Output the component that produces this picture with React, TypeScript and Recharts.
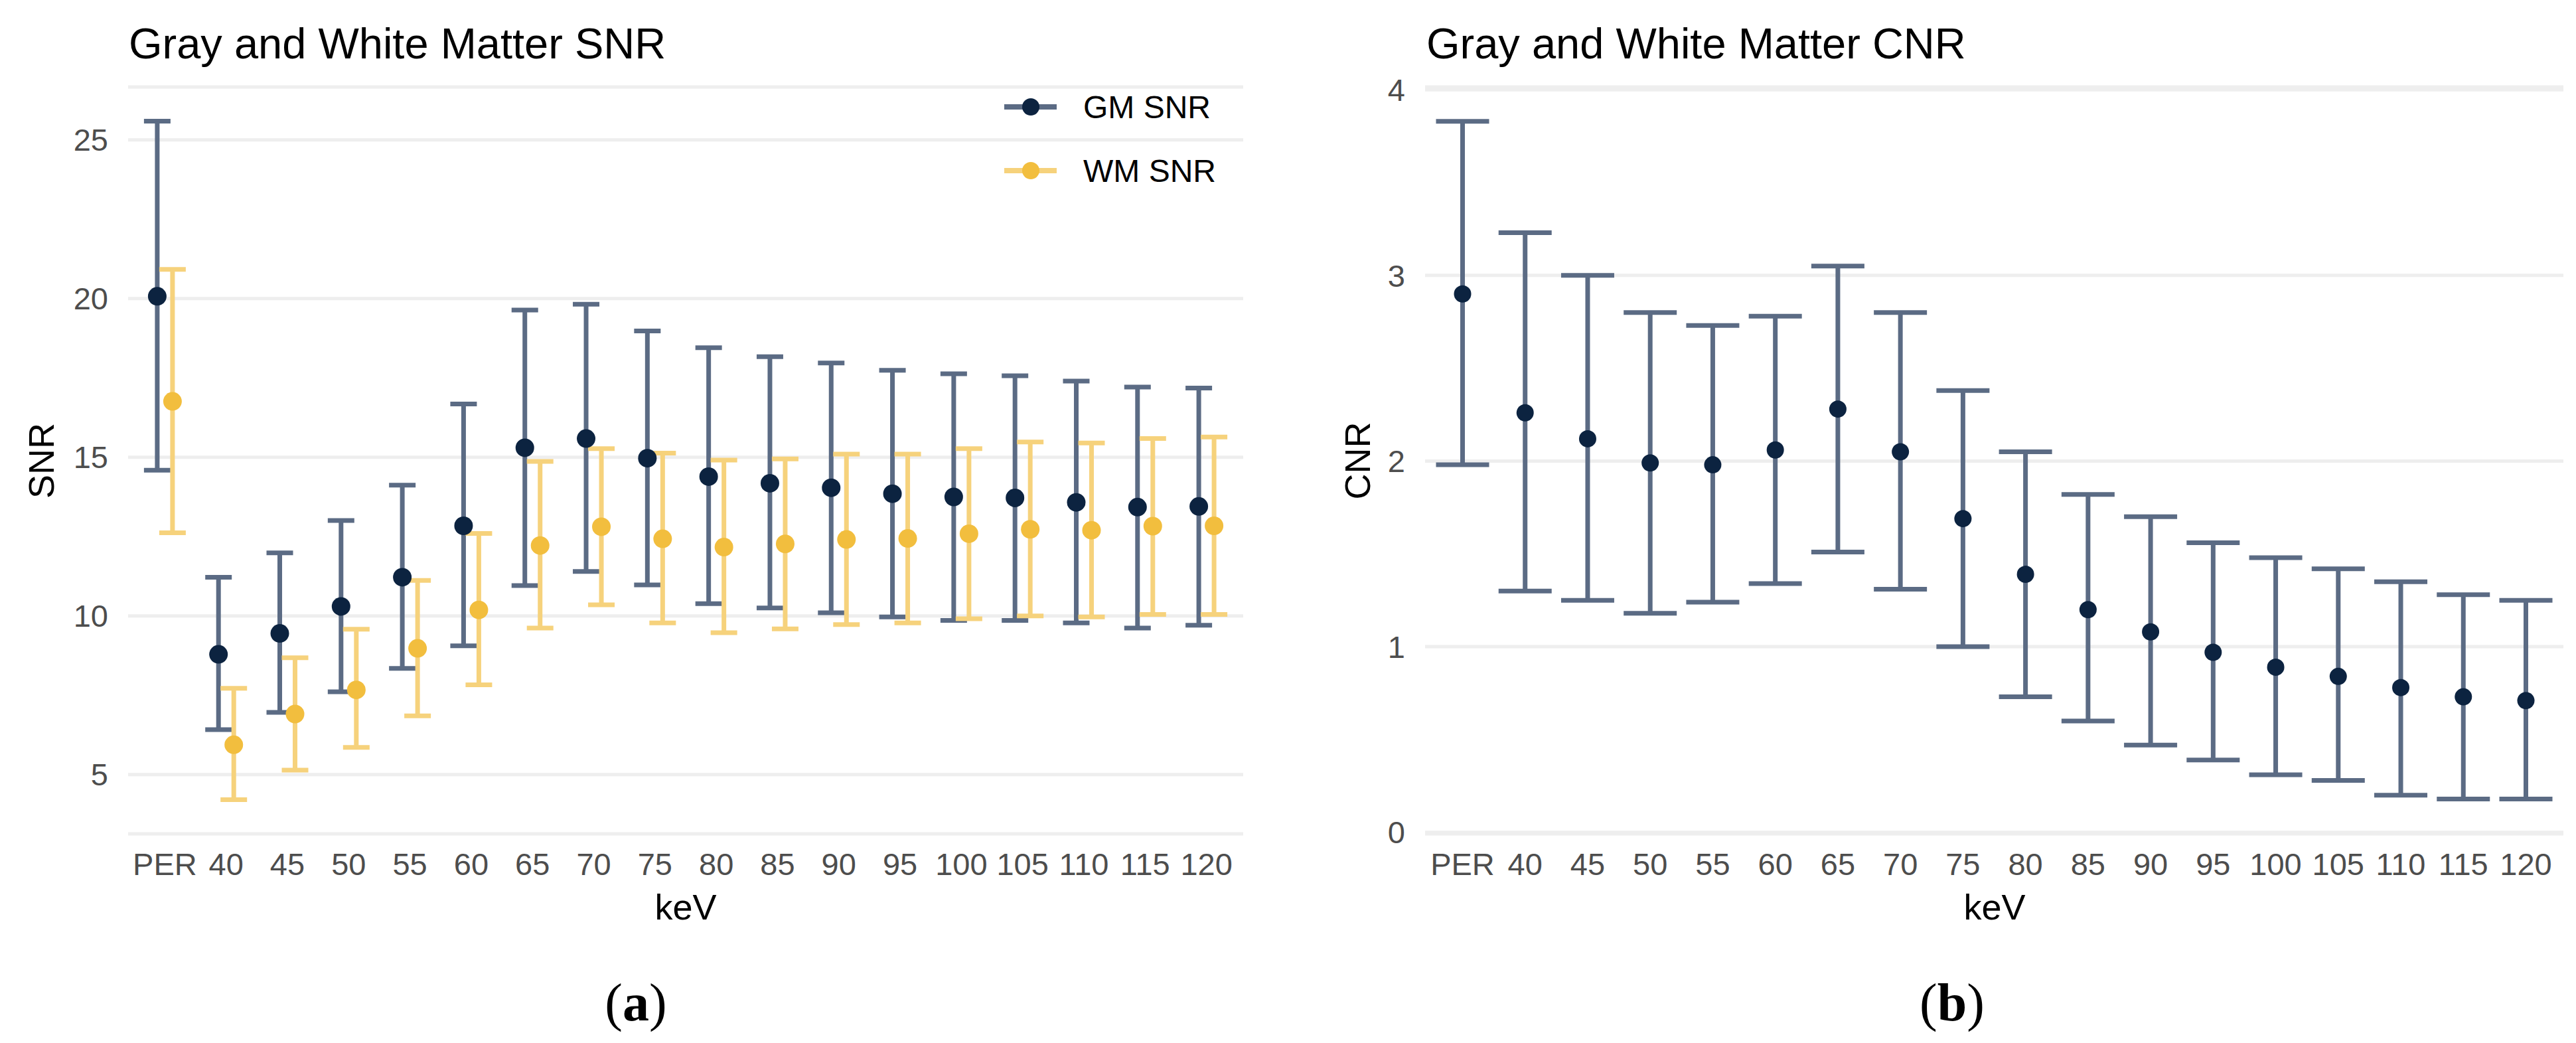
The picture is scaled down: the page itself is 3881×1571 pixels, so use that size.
import React from 'react';
import { ComposedChart, Line, XAxis, YAxis, CartesianGrid, ErrorBar } from 'recharts';

// ---------- data ----------
const categories = ['PER', '40', '45', '50', '55', '60', '65', '70', '75', '80', '85', '90', '95', '100', '105', '110', '115', '120'];

const gmSnrMean = [20.07, 8.79, 9.45, 10.3, 11.22, 12.84, 15.3, 15.59, 14.97, 14.39, 14.18, 14.04, 13.85, 13.75, 13.72, 13.58, 13.43, 13.45];
const gmSnrLow = [14.59, 6.42, 6.96, 7.61, 8.35, 9.06, 10.96, 11.4, 10.98, 10.39, 10.25, 10.1, 9.97, 9.86, 9.86, 9.78, 9.62, 9.71];
const gmSnrHigh = [25.59, 11.22, 11.99, 13.01, 14.12, 16.68, 19.64, 19.82, 18.98, 18.45, 18.17, 17.97, 17.74, 17.63, 17.57, 17.4, 17.21, 17.18];

const wmSnrMean = [16.76, 5.94, 6.91, 7.67, 8.98, 10.19, 12.22, 12.81, 12.43, 12.17, 12.27, 12.41, 12.44, 12.59, 12.73, 12.7, 12.83, 12.84];
const wmSnrLow = [12.62, 4.21, 5.14, 5.86, 6.85, 7.83, 9.62, 10.35, 9.78, 9.47, 9.59, 9.73, 9.78, 9.91, 10.0, 9.97, 10.05, 10.05];
const wmSnrHigh = [20.92, 7.72, 8.68, 9.58, 11.12, 12.6, 14.87, 15.27, 15.13, 14.91, 14.95, 15.1, 15.1, 15.27, 15.48, 15.45, 15.59, 15.64];

const cnrMean = [2.9, 2.26, 2.12, 1.99, 1.98, 2.06, 2.28, 2.05, 1.69, 1.39, 1.2, 1.08, 0.97, 0.89, 0.84, 0.78, 0.73, 0.71];
const cnrLow = [1.98, 1.3, 1.25, 1.18, 1.24, 1.34, 1.51, 1.31, 1.0, 0.73, 0.6, 0.47, 0.39, 0.31, 0.28, 0.2, 0.18, 0.18];
const cnrHigh = [3.83, 3.23, 3.0, 2.8, 2.73, 2.78, 3.05, 2.8, 2.38, 2.05, 1.82, 1.7, 1.56, 1.48, 1.42, 1.35, 1.28, 1.25];

const snrTicks = [5, 10, 15, 20, 25];
const cnrTicks = [0, 1, 2, 3, 4];

// ---------- derived rows ----------
const snrRows = categories.map((cat, i) => ({
  cat,
  gm: gmSnrMean[i],
  gmErr: [gmSnrMean[i] - gmSnrLow[i], gmSnrHigh[i] - gmSnrMean[i]],
  wm: wmSnrMean[i],
  wmErr: [wmSnrMean[i] - wmSnrLow[i], wmSnrHigh[i] - wmSnrMean[i]],
}));

const cnrRows = categories.map((cat, i) => ({
  cat,
  cnr: cnrMean[i],
  cnrErr: [cnrMean[i] - cnrLow[i], cnrHigh[i] - cnrMean[i]],
}));

// ---------- styles ----------
const FONT = '"Liberation Sans", Arial, Helvetica, sans-serif';
const NAVY = '#0c2340';
const NAVY_BAR = '#5b6b84';
const GOLD = '#f2be3e';
const GOLD_BAR = '#f6d27c';
const GRID = '#eeeeee';
const TICK_FILL = '#4d4d4d';

const tickStyle = { fontSize: 47, fill: TICK_FILL, fontFamily: FONT };

const PLOT_TOP = 131;
const CHART_H = 1571;
const XAXIS_H = 60;
const BOTTOM_MARGIN = CHART_H - 1256 - XAXIS_H;

function SnrChart() {
  // plot area x: 193 .. 1873 within a 1950 wide chart
  const pad = 55.4;
  const dodge = 11.5;
  return (
    <ComposedChart
      width={1950}
      height={CHART_H}
      data={snrRows}
      margin={{ top: PLOT_TOP, right: 1950 - 1873, bottom: BOTTOM_MARGIN, left: 0 }}
    >
      <CartesianGrid vertical={false} stroke={GRID} strokeWidth={5} />
      <XAxis
        xAxisId="main"
        dataKey="cat"
        type="category"
        scale="point"
        interval={0}
        padding={{ left: pad, right: pad }}
        height={XAXIS_H}
        axisLine={false}
        tickLine={false}
        tickSize={0}
        tickMargin={29}
        tick={tickStyle}
      />
      <XAxis xAxisId="gm" dataKey="cat" type="category" scale="point" hide height={0} padding={{ left: pad - dodge, right: pad + dodge }} />
      <XAxis xAxisId="wm" dataKey="cat" type="category" scale="point" hide height={0} padding={{ left: pad + dodge, right: pad - dodge }} />
      <YAxis
        width={193}
        type="number"
        domain={[3.134, 26.667]}
        allowDataOverflow
        ticks={snrTicks}
        axisLine={false}
        tickLine={false}
        tickSize={0}
        tickMargin={30}
        tick={tickStyle}
      />
      <Line
        xAxisId="gm"
        dataKey="gm"
        stroke="none"
        isAnimationActive={false}
        dot={{ r: 14, fill: NAVY, stroke: 'none', strokeWidth: 0 }}
        activeDot={false}
      >
        <ErrorBar dataKey="gmErr" direction="y" width={20} strokeWidth={7} stroke={NAVY_BAR} />
      </Line>
      <Line
        xAxisId="wm"
        dataKey="wm"
        stroke="none"
        isAnimationActive={false}
        dot={{ r: 14, fill: GOLD, stroke: 'none', strokeWidth: 0 }}
        activeDot={false}
      >
        <ErrorBar dataKey="wmErr" direction="y" width={20} strokeWidth={7} stroke={GOLD_BAR} />
      </Line>
    </ComposedChart>
  );
}

function CnrChart() {
  // plot area x: 197 .. 1912 within a 1931 wide chart
  const pad = 56.5;
  return (
    <ComposedChart
      width={1931}
      height={CHART_H}
      data={cnrRows}
      margin={{ top: PLOT_TOP, right: 1931 - 1912, bottom: BOTTOM_MARGIN, left: 0 }}
    >
      <CartesianGrid vertical={false} stroke={GRID} strokeWidth={5} />
      <XAxis
        dataKey="cat"
        type="category"
        scale="point"
        interval={0}
        padding={{ left: pad, right: pad }}
        height={XAXIS_H}
        axisLine={false}
        tickLine={false}
        tickSize={0}
        tickMargin={29}
        tick={tickStyle}
      />
      <YAxis
        width={197}
        type="number"
        domain={[-0.008, 4.015]}
        allowDataOverflow
        ticks={cnrTicks}
        axisLine={false}
        tickLine={false}
        tickSize={0}
        tickMargin={30}
        tick={tickStyle}
      />
      <Line
        dataKey="cnr"
        stroke="none"
        isAnimationActive={false}
        dot={{ r: 13, fill: NAVY, stroke: 'none', strokeWidth: 0 }}
        activeDot={false}
      >
        <ErrorBar dataKey="cnrErr" direction="y" width={40} strokeWidth={7} stroke={NAVY_BAR} />
      </Line>
    </ComposedChart>
  );
}

function Overlay() {
  return (
    <svg
      width={3881}
      height={1571}
      style={{ position: 'absolute', left: 0, top: 0, pointerEvents: 'none' }}
    >
      {/* titles */}
      <text x={194} y={88} fontSize={65} fontFamily={FONT} fill="#000">Gray and White Matter SNR</text>
      <text x={2149} y={88} fontSize={65} fontFamily={FONT} fill="#000">Gray and White Matter CNR</text>

      {/* axis titles */}
      <text x={1033} y={1385} fontSize={54} fontFamily={FONT} fill="#000" textAnchor="middle">keV</text>
      <text x={3005} y={1385} fontSize={54} fontFamily={FONT} fill="#000" textAnchor="middle">keV</text>
      <text
        x={81}
        y={694}
        fontSize={54}
        fontFamily={FONT}
        fill="#000"
        textAnchor="middle"
        transform="rotate(-90 81 694)"
      >
        SNR
      </text>
      <text
        x={2064}
        y={694}
        fontSize={54}
        fontFamily={FONT}
        fill="#000"
        textAnchor="middle"
        transform="rotate(-90 2064 694)"
      >
        CNR
      </text>

      {/* legend */}
      <line x1={1513} y1={161} x2={1592} y2={161} stroke={NAVY_BAR} strokeWidth={8} />
      <circle cx={1553} cy={161} r={13} fill={NAVY} />
      <text x={1632} y={178} fontSize={48} fontFamily={FONT} fill="#000">GM SNR</text>
      <line x1={1513} y1={257} x2={1592} y2={257} stroke={GOLD_BAR} strokeWidth={8} />
      <circle cx={1553} cy={257} r={13} fill={GOLD} />
      <text x={1632} y={274} fontSize={48} fontFamily={FONT} fill="#000">WM SNR</text>

      {/* panel labels */}
      <text x={958} y={1537} fontSize={80} fontFamily='"Liberation Serif", "Times New Roman", serif' fill="#000" textAnchor="middle">
        (<tspan fontWeight="bold">a</tspan>)
      </text>
      <text x={2941} y={1537} fontSize={80} fontFamily='"Liberation Serif", "Times New Roman", serif' fill="#000" textAnchor="middle">
        (<tspan fontWeight="bold">b</tspan>)
      </text>
    </svg>
  );
}

export default function App() {
  return (
    <div style={{ position: 'absolute', left: 0, top: 0, width: 3881, height: 1571, background: '#fff', overflow: 'hidden' }}>
      <div style={{ position: 'absolute', left: 0, top: 0 }}>
        <SnrChart />
      </div>
      <div style={{ position: 'absolute', left: 1950, top: 0 }}>
        <CnrChart />
      </div>
      <Overlay />
    </div>
  );
}
